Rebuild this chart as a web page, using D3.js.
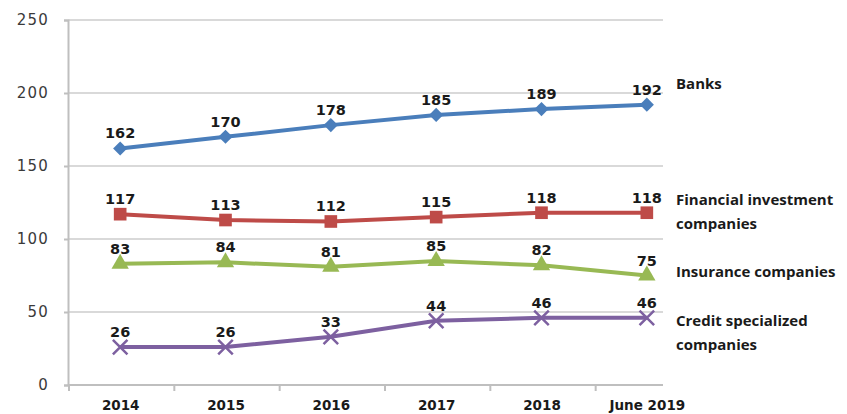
<!DOCTYPE html>
<html lang="en">
  <head>
    <meta charset="UTF-8" />
    <title>Number of financial companies</title>
    <style>
      body {
        margin: 0;
        background: #fff;
      }
      svg {
        display: block;
      }
      .num {
        font-family: "DejaVu Sans", sans-serif;
        font-weight: bold;
        font-size: 14.5px;
        fill: #1a1a1a;
      }
      .legend {
        font-family: "Open Sans", sans-serif;
        font-weight: bold;
        font-size: 15px;
        fill: #1a1a1a;
      }
      .ytick {
        font-family: "DejaVu Sans", sans-serif;
        font-size: 15px;
        letter-spacing: 1.2px;
        fill: #3a3a3a;
      }
      .xtick {
        font-family: "DejaVu Sans", sans-serif;
        font-weight: bold;
        font-size: 13.5px;
        fill: #1a1a1a;
      }
    </style>
  </head>
  <body>
    <svg id="chart"></svg>
    <script src="https://d3js.org/d3.v7.min.js"></script>
    <script>
      const width = 847;
      const height = 414;

      const categories = ["2014", "2015", "2016", "2017", "2018", "June 2019"];
      const banks = [162, 170, 178, 185, 189, 192];
      const financialInvestment = [117, 113, 112, 115, 118, 118];
      const insurance = [83, 84, 81, 85, 82, 75];
      const creditSpecialized = [26, 26, 33, 44, 46, 46];
      const yTicks = [0, 50, 100, 150, 200, 250];

      const series = [
        { name: ["Banks"], values: banks, color: "#4a7ebb", marker: "diamond", legendY: 84 },
        { name: ["Financial investment", "companies"], values: financialInvestment, color: "#be4b48", marker: "square", legendY: 200 },
        { name: ["Insurance companies"], values: insurance, color: "#98b954", marker: "triangle", legendY: 272 },
        { name: ["Credit specialized", "companies"], values: creditSpecialized, color: "#7d60a0", marker: "cross", legendY: 321 }
      ];

      const plotLeft = 68;
      const plotRight = 700;
      const gridRight = 663;
      const plotTop = 20;
      const plotBottom = 385;

      const svg = d3
        .select("#chart")
        .attr("width", width)
        .attr("height", height);

      const x = d3.scaleBand().domain(categories).range([plotLeft, plotRight]);
      const y = d3.scaleLinear().domain([0, 250]).range([plotBottom, plotTop]);
      const cx = (c) => x(c) + x.bandwidth() / 2 - 0.5;

      // gridlines
      svg
        .append("g")
        .selectAll("line")
        .data(yTicks.filter((t) => t > 0))
        .join("line")
        .attr("x1", plotLeft)
        .attr("x2", gridRight)
        .attr("y1", (d) => y(d))
        .attr("y2", (d) => y(d))
        .attr("stroke", "#d9d9d9")
        .attr("stroke-width", 2);

      // y axis
      const yAxis = svg
        .append("g")
        .attr("transform", `translate(${plotLeft},0)`)
        .call(d3.axisLeft(y).tickValues(yTicks).tickSize(4).tickPadding(15));
      yAxis.select(".domain").attr("stroke", "#bfbfbf").attr("stroke-width", 2);
      yAxis.selectAll(".tick line").attr("stroke", "#bfbfbf").attr("stroke-width", 2);
      yAxis.selectAll("text").attr("class", "ytick");

      // x axis
      const xAxis = svg
        .append("g")
        .attr("transform", `translate(0,${plotBottom})`)
        .call(d3.axisBottom(x).tickSize(0).tickPadding(15));
      xAxis.select(".domain").remove();
      xAxis.selectAll("text").attr("class", "xtick");
      svg
        .append("line")
        .attr("x1", plotLeft)
        .attr("x2", gridRight)
        .attr("y1", plotBottom)
        .attr("y2", plotBottom)
        .attr("stroke", "#bfbfbf")
        .attr("stroke-width", 2);
      svg
        .append("g")
        .selectAll("line")
        .data(categories)
        .join("line")
        .attr("x1", (d) => x(d) + 1)
        .attr("x2", (d) => x(d) + 1)
        .attr("y1", plotBottom)
        .attr("y2", plotBottom + 6)
        .attr("stroke", "#bfbfbf")
        .attr("stroke-width", 2);

      const line = d3
        .line()
        .x((d, i) => cx(categories[i]))
        .y((d) => y(d));

      const symbols = {
        diamond: d3.symbol().type(d3.symbolSquare).size(100),
        square: d3.symbol().type(d3.symbolSquare).size(160),
        triangle: d3.symbol().type(d3.symbolTriangle).size(130),
        cross: d3.symbol().type(d3.symbolTimes).size(140)
      };

      series.forEach((s) => {
        const g = svg.append("g");
        g.append("path")
          .datum(s.values)
          .attr("d", line)
          .attr("fill", "none")
          .attr("stroke", s.color)
          .attr("stroke-width", 4);

        g.selectAll(".marker")
          .data(s.values)
          .join("path")
          .attr("class", "marker")
          .attr(
            "transform",
            (d, i) =>
              `translate(${cx(categories[i])},${y(d)})` +
              (s.marker === "diamond" ? " rotate(45)" : "")
          )
          .attr("d", symbols[s.marker])
          .attr("fill", s.marker === "cross" ? "none" : s.color)
          .attr("stroke", s.color)
          .attr("stroke-width", s.marker === "cross" ? 2.5 : 0);

        g.selectAll(".num")
          .data(s.values)
          .join("text")
          .attr("class", "num")
          .attr("x", (d, i) => cx(categories[i]))
          .attr("y", (d) => y(d) - 10)
          .attr("text-anchor", "middle")
          .text((d) => d);

        const lt = svg
          .append("text")
          .attr("class", "legend")
          .attr("x", 676)
          .attr("y", s.legendY);
        s.name.forEach((n, i) => {
          lt.append("tspan")
            .attr("x", 676)
            .attr("dy", i === 0 ? "0.35em" : "24")
            .text(n);
        });
      });
    </script>
  </body>
</html>
